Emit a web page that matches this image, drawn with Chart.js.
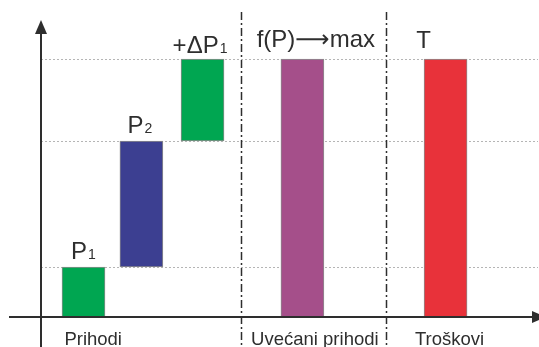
<!DOCTYPE html>
<html>
<head>
<meta charset="utf-8">
<script src="https://cdn.jsdelivr.net/npm/chart.js@4/dist/chart.umd.min.js"></script>
<style>
html,body{margin:0;padding:0;background:#fff;}
#wrap{width:539px;height:347px;}
</style>
</head>
<body>
<div id="wrap"><canvas id="c" width="539" height="347"></canvas></div>
<script>
// ---- data ----
const categories = ['Prihodi', 'Uvećani prihodi', 'Troškovi'];
const categoryPos = [1.05, 5.51, 8.22];
const dividerPos = [4.02, 6.94];

const barNames = ['P', 'P', '+ΔP', 'f(P)⟶max', 'T'];
const barSubs = ['1', '2', '1', '', ''];
const barPos = [0.855, 2.02, 3.25, 5.26, 8.14];
const barStart = [0, 1, 3.52, 0, 0];
const barEnd = [1, 3.52, 5.16, 5.16, 5.16];
const labelPos = [0.855, 1.99, 3.20, 5.53, 7.70];
const labelGap = [8, 8, 6, 12, 11];
const barColors = ['#00a651', '#3c3f91', '#00a651', '#a54f8a', '#e8323a'];

const gridValues = [1, 3.52, 5.16];
const yMax = 5.94;
const xMax = 10;

const ink = '#2e2e2e';

const overlay = {
  id: 'overlay',
  afterDatasetsDraw(chart) {
    const ctx = chart.ctx;
    const xs = chart.scales.x, ys = chart.scales.y;
    const ca = chart.chartArea;
    const x0 = xs.getPixelForValue(0);
    const y0 = ys.getPixelForValue(0);
    ctx.save();
    // dividers (dash-dot)
    ctx.strokeStyle = ink;
    ctx.lineWidth = 1.5;
    ctx.setLineDash([8, 3, 2, 3]);
    dividerPos.forEach(v => {
      const px = Math.round(xs.getPixelForValue(v)) + 0.5;
      ctx.beginPath();
      ctx.moveTo(px, 12);
      ctx.lineTo(px, chart.height);
      ctx.stroke();
    });
    ctx.setLineDash([]);
    // axes
    ctx.lineWidth = 2;
    ctx.strokeStyle = ink;
    ctx.fillStyle = ink;
    ctx.beginPath();
    ctx.moveTo(x0, chart.height);
    ctx.lineTo(x0, ca.top + 12);
    ctx.moveTo(9, y0);
    ctx.lineTo(ca.right - 4, y0);
    ctx.stroke();
    ctx.beginPath();
    ctx.moveTo(x0, ca.top);
    ctx.lineTo(x0 - 6, ca.top + 14);
    ctx.lineTo(x0 + 6, ca.top + 14);
    ctx.closePath();
    ctx.fill();
    ctx.beginPath();
    ctx.moveTo(ca.right + 8, y0);
    ctx.lineTo(ca.right - 6, y0 - 6);
    ctx.lineTo(ca.right - 6, y0 + 6);
    ctx.closePath();
    ctx.fill();
    // bar labels
    ctx.textBaseline = 'alphabetic';
    ctx.fillStyle = ink;
    barNames.forEach((name, i) => {
      const mainFont = '24px "Liberation Sans", "DejaVu Sans", Arial, sans-serif';
      const subFont = '14px "Liberation Sans", Arial, sans-serif';
      ctx.font = mainFont;
      const w1 = ctx.measureText(name).width;
      ctx.font = subFont;
      const w2 = barSubs[i] ? ctx.measureText(barSubs[i]).width + 1 : 0;
      const cx = xs.getPixelForValue(labelPos[i]);
      const by = ys.getPixelForValue(barEnd[i]) - labelGap[i];
      const left = cx - (w1 + w2) / 2;
      ctx.textAlign = 'left';
      ctx.font = mainFont;
      ctx.fillText(name, left, by);
      if (barSubs[i]) {
        ctx.font = subFont;
        ctx.fillText(barSubs[i], left + w1 + 1, by);
      }
    });
    // category labels
    ctx.font = '18.5px "Liberation Sans", Arial, sans-serif';
    ctx.textAlign = 'center';
    categories.forEach((c, i) => {
      ctx.fillText(c, xs.getPixelForValue(categoryPos[i]), y0 + 28);
    });
    ctx.restore();
  }
};

new Chart(document.getElementById('c'), {
  type: 'bar',
  data: {
    datasets: [{
      data: barPos.map((p, i) => ({ x: p, y: [barStart[i], barEnd[i]] })),
      backgroundColor: barColors,
      borderColor: '#8c8c8c',
      borderWidth: 1,
      borderSkipped: false,
      barThickness: 43
    }]
  },
  options: {
    responsive: false,
    animation: false,
    layout: { padding: { left: 41, top: 20, right: 1, bottom: 30 } },
    plugins: { legend: { display: false }, tooltip: { enabled: false } },
    scales: {
      x: {
        type: 'linear',
        offset: false,
        min: 0, max: xMax,
        grid: { display: false, drawTicks: false, offset: false },
        border: { display: false },
        ticks: { display: false },
        afterFit: s => { s.height = 0; }
      },
      y: {
        min: 0, max: yMax,
        grid: { color: '#b5b5b5', lineWidth: 1, drawTicks: false, tickLength: 0 },
        border: { display: false, dash: [2, 2] },
        ticks: { display: false },
        afterBuildTicks: s => { s.ticks = gridValues.map(v => ({ value: v })); },
        afterFit: s => { s.width = 0; }
      }
    }
  },
  plugins: [overlay]
});
</script>
</body>
</html>
